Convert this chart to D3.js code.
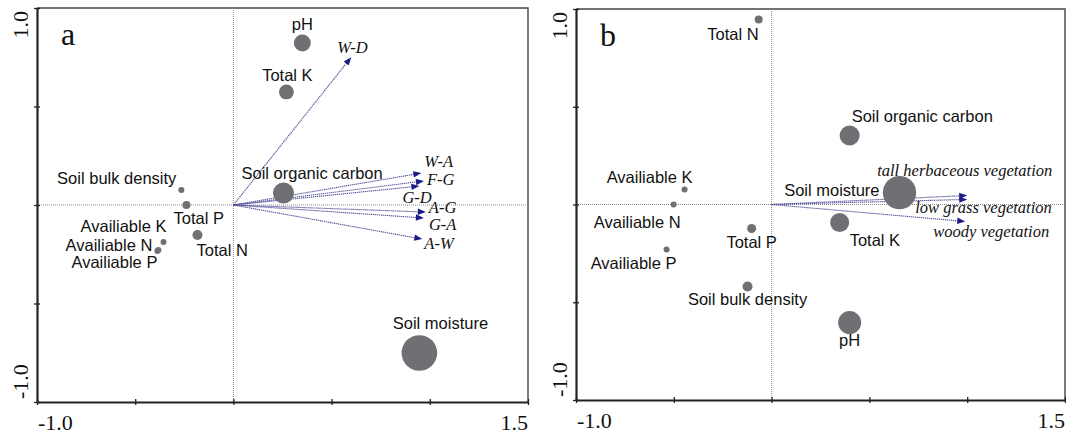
<!DOCTYPE html>
<html lang="en">
<head>
<meta charset="utf-8">
<title>RDA biplots</title>
<style>
    body { margin: 0; background: #fff; }
    .zero line { stroke: #8a8a8a; stroke-width: 1; stroke-dasharray: 1,1; }
    .pt { fill: #707074; }
    .vlab { font-family: "Liberation Sans", Arial, sans-serif; font-size: 16.5px; fill: #111; }
    .alab { font-family: "Liberation Serif", "Times New Roman", serif; font-style: italic; font-size: 16.5px; fill: #111; }
    .tlab { font-family: "Liberation Serif", "Times New Roman", serif; font-size: 22px; fill: #111; }
    .plab { font-family: "Liberation Serif", "Times New Roman", serif; font-size: 32px; fill: #111; }
    .arr line { stroke: #50509a; stroke-width: 1.1; stroke-dasharray: 1.3,0.7; }
    .arr path { fill: #1c1c86; }
</style>
</head>
<body>
<svg id="chart" width="1066" height="434"></svg>
<script src="https://cdn.jsdelivr.net/npm/d3@7"></script>
<script>
    // ---- data ----
    const xTicks = [-1.0, -0.5, 0, 0.5, 1.0, 1.5];
    const yTicks = [-1.0, -0.5, 0, 0.5, 1.0];
    const xEnds = [-1.0, 1.5];
    const yEnds = [-1.0, 1.0];

    // panel a: environmental variables
    const varsA = ["pH", "Total K", "Soil organic carbon", "Soil moisture", "Soil bulk density",
        "Total P", "Total N", "Availiable K", "Availiable N", "Availiable P"];
    const varXA = [0.351, 0.27, 0.255, 0.947, -0.265, -0.239, -0.183, -0.356, -0.382, -0.387];
    const varYA = [0.822, 0.574, 0.061, -0.751, 0.076, 0.0, -0.152, -0.188, -0.228, -0.234];
    const varWA = [0.22, 0.17, 0.34, 0.98, 0.028, 0.05, 0.077, 0.028, 0.028, 0.028];
    // panel a: response arrows
    const arrA = ["W-D", "W-A", "F-G", "G-D", "A-G", "G-A", "A-W"];
    const arrXA = [0.60, 0.957, 0.97, 0.947, 0.98, 0.97, 0.962];
    const arrYA = [0.75, 0.162, 0.122, 0.096, -0.036, -0.066, -0.173];

    // panel b
    const varsB = ["Total N", "Availiable K", "Availiable N", "Availiable P", "Total P",
        "Soil bulk density", "Soil organic carbon", "Soil moisture", "Total K", "pH"];
    const varXB = [-0.066, -0.445, -0.501, -0.537, -0.102, -0.123, 0.399, 0.654, 0.348, 0.399];
    const varYB = [0.946, 0.077, 0.0, -0.230, -0.123, -0.419, 0.353, 0.061, -0.092, -0.604];
    const varWB = [0.05, 0.028, 0.028, 0.028, 0.0625, 0.077, 0.31, 0.86, 0.28, 0.41];
    const arrB = ["tall herbaceous vegetation", "low grass vegetation", "woody vegetation"];
    const arrXB = [1.0, 1.0, 0.99];
    const arrYB = [0.046, 0.026, -0.087];

    // ---- label placement (pixel offsets from the mark) ----
    const labOffA = [[0, -13, "middle"], [1, -11, "middle"], [-42, -14, "start"], [21, -24, "middle"],
        [-5, -6, "end"], [-13, 19, "start"], [-1, 21, "start"], [3, -10, "end"], [-6, 1, "end"], [0, 17, "end"]];
    const arrOffA = [[-14, -4], [3, -6], [3, 4], [-17, 17], [3, 1], [5, 12], [2, 10]];
    const labOffB = [[0, 20, "end"], [8, -6, "end"], [7, 23, "end"], [10, 20, "end"], [0, 19, "middle"],
        [0, 19, "middle"], [2, -13, "start"], [-20, 3, "end"], [10, 24, "start"], [0, 23, "middle"]];
    const arrOffB = [[-90, -20], [-52, 14], [-32, 15]];

    const svg = d3.select("#chart");
    const rScale = d3.scaleSqrt().domain([0, 1]).range([0, 18]);

    function drawPanel(p) {
        const x = d3.scaleLinear().domain([-1, 1.5]).range([p.left, p.right]);
        const y = d3.scaleLinear().domain([-1, 1]).range([p.bottom, p.top]);
        const g = svg.append("g");

        // top / right frame
        g.append("path")
            .attr("d", `M${p.left},${p.top}H${p.right}V${p.bottom}`)
            .attr("fill", "none").attr("stroke", "#444").attr("stroke-width", 1.4);

        // zero lines
        const z = g.append("g").attr("class", "zero");
        z.append("line").attr("x1", x(0)).attr("x2", x(0)).attr("y1", p.top).attr("y2", p.bottom);
        z.append("line").attr("x1", p.left).attr("x2", p.right).attr("y1", y(0)).attr("y2", y(0));

        // axes
        const ax = g.append("g").attr("transform", `translate(0,${p.bottom})`)
            .call(d3.axisBottom(x).tickValues(xTicks).tickSize(3).tickSizeOuter(0).tickFormat(() => ""));
        const ay = g.append("g").attr("transform", `translate(${p.left},0)`)
            .call(d3.axisLeft(y).tickValues(yTicks).tickSize(3).tickSizeOuter(0).tickFormat(() => ""));
        ax.selectAll(".tick line").attr("y1", -3).attr("stroke", "#222").attr("stroke-width", 1.3);
        ay.selectAll(".tick line").attr("x1", 3).attr("stroke", "#222").attr("stroke-width", 1.3);
        [ax, ay].forEach(a => a.select(".domain").attr("stroke", "#222").attr("stroke-width", 2.2));

        // end tick labels
        g.append("text").attr("class", "tlab").attr("x", x(xEnds[0]) + 1).attr("y", p.bottom + 28)
            .text(xEnds[0].toFixed(1));
        g.append("text").attr("class", "tlab").attr("x", x(xEnds[1])).attr("y", p.bottom + 28)
            .attr("text-anchor", "end").text(xEnds[1].toFixed(1));
        g.append("text").attr("class", "tlab")
            .attr("transform", `translate(${p.left - 9},${y(yEnds[1]) + 3}) rotate(-90)`)
            .attr("text-anchor", "end").text(yEnds[1].toFixed(1));
        g.append("text").attr("class", "tlab")
            .attr("transform", `translate(${p.left - 9},${y(yEnds[0]) - 3}) rotate(-90)`)
            .text(yEnds[0].toFixed(1));

        // panel letter
        g.append("text").attr("class", "plab").attr("x", p.left + 24).attr("y", p.top + 37).text(p.letter);

        // arrows
        const arr = p.arrNames.map((n, i) => ({n, x: p.arrX[i], y: p.arrY[i], off: p.arrOff[i]}));
        const ag = g.append("g").attr("class", "arr");
        arr.forEach(d => {
            const x1 = x(d.x), y1 = y(d.y), x0 = x(0), y0 = y(0);
            const ang = Math.atan2(y1 - y0, x1 - x0);
            ag.append("line").attr("x1", x0).attr("y1", y0)
                .attr("x2", x1 - 6 * Math.cos(ang)).attr("y2", y1 - 6 * Math.sin(ang));
            ag.append("path").attr("d", "M0,0L-8,-3.2L-8,3.2Z")
                .attr("transform", `translate(${x1},${y1}) rotate(${ang * 180 / Math.PI})`);
        });

        // variables
        const pts = p.vars.map((n, i) => ({n, x: p.varX[i], y: p.varY[i], w: p.varW[i], off: p.labOff[i]}));
        g.append("g").selectAll("circle").data(pts).join("circle")
            .attr("class", "pt")
            .attr("cx", d => x(d.x)).attr("cy", d => y(d.y)).attr("r", d => rScale(d.w));
        g.append("g").selectAll("text").data(pts).join("text")
            .attr("class", "vlab")
            .attr("x", d => x(d.x) + d.off[0]).attr("y", d => y(d.y) + d.off[1])
            .attr("text-anchor", d => d.off[2]).text(d => d.n);

        g.append("g").selectAll("text").data(arr).join("text")
            .attr("class", "alab")
            .attr("x", d => x(d.x) + d.off[0]).attr("y", d => y(d.y) + d.off[1])
            .text(d => d.n);
    }

    drawPanel({left: 37, right: 528, top: 8, bottom: 402, letter: "a",
        vars: varsA, varX: varXA, varY: varYA, varW: varWA, labOff: labOffA,
        arrNames: arrA, arrX: arrXA, arrY: arrYA, arrOff: arrOffA});
    drawPanel({left: 576, right: 1065, top: 9, bottom: 400, letter: "b",
        vars: varsB, varX: varXB, varY: varYB, varW: varWB, labOff: labOffB,
        arrNames: arrB, arrX: arrXB, arrY: arrYB, arrOff: arrOffB});
</script>
</body>
</html>
